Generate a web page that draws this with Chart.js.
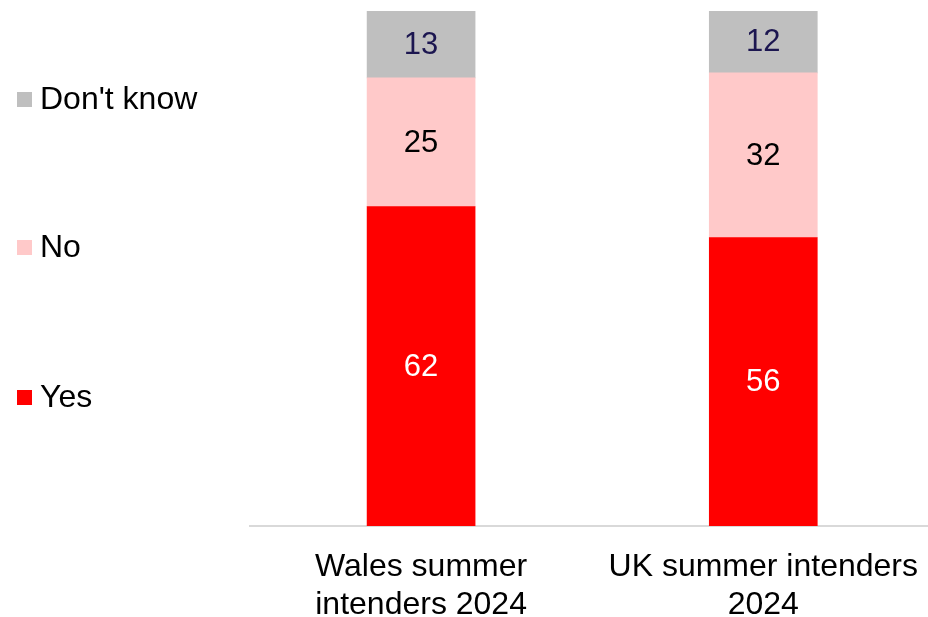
<!DOCTYPE html>
<html>
<head>
<meta charset="utf-8">
<script src="https://cdn.jsdelivr.net/npm/chart.js@4"></script>
<style>
  html, body { margin: 0; padding: 0; background: #fff; overflow: hidden; }
  #wrap { width: 941px; height: 617px; }
</style>
</head>
<body>
<div id="wrap"><canvas id="grafico"></canvas></div>
<script>
// categorias e valores (%)
const categorias = [['Wales summer', 'intenders 2024'], ['UK summer intenders', '2024']];
const sim = [62, 56];
const nao = [25, 32];
const naoSei = [13, 12];

const fonte = '"Liberation Sans", Arial, sans-serif';

// rótulos de valor no meio de cada segmento
const rotulosPlugin = {
    id: 'rotulos',
    afterDatasetsDraw(chart) {
        const ctx = chart.ctx;
        ctx.save();
        ctx.font = '31px ' + fonte;
        ctx.textAlign = 'center';
        ctx.textBaseline = 'middle';
        chart.data.datasets.forEach((ds, i) => {
            chart.getDatasetMeta(i).data.forEach((bar, j) => {
                const meio = (bar.y + bar.base) / 2;
                ctx.fillStyle = ds.corRotulo;
                ctx.fillText(ds.data[j], bar.x, meio + 1);
            });
        });
        ctx.restore();
    }
};

// legenda à esquerda, de cima para baixo
const legendaPlugin = {
    id: 'legendaEsq',
    afterDraw(chart) {
        const ctx = chart.ctx;
        const posY = [99, 247, 397];
        const ordem = [2, 1, 0];
        ctx.save();
        ctx.font = '32px ' + fonte;
        ctx.textBaseline = 'middle';
        ctx.textAlign = 'left';
        ordem.forEach((i, k) => {
            const ds = chart.data.datasets[i];
            ctx.fillStyle = ds.backgroundColor;
            ctx.fillRect(17, posY[k] - 7, 15, 15);
            ctx.fillStyle = '#000';
            ctx.fillText(ds.label, 40, posY[k] + 1);
        });
        ctx.restore();
    }
};

new Chart(document.getElementById('grafico'), {
    type: 'bar',
    data: {
        labels: categorias,
        datasets: [
            { label: 'Yes', data: sim, backgroundColor: '#FF0000', corRotulo: '#FFFFFF' },
            { label: 'No', data: nao, backgroundColor: '#FFC9C9', corRotulo: '#000000' },
            { label: "Don't know", data: naoSei, backgroundColor: '#BFBFBF', corRotulo: '#1C1650' }
        ]
    },
    options: {
        responsive: true,
        maintainAspectRatio: false,
        animation: false,
        layout: { padding: { left: 250, top: 11, right: 0, bottom: 0 } },
        datasets: { bar: { barThickness: 108, borderWidth: 0 } },
        plugins: { legend: { display: false }, tooltip: { enabled: false } },
        scales: {
            x: {
                stacked: true,
                grid: { display: false, drawTicks: false },
                border: { color: '#D9D9D9', width: 2 },
                ticks: { color: '#000', font: { family: fonte, size: 32, lineHeight: 1.16 }, padding: 23, maxRotation: 0 },
                afterFit: s => { s.height = 91; }
            },
            y: {
                stacked: true,
                display: false,
                min: 0,
                max: 100
            }
        }
    },
    plugins: [rotulosPlugin, legendaPlugin]
});
</script>
</body>
</html>
